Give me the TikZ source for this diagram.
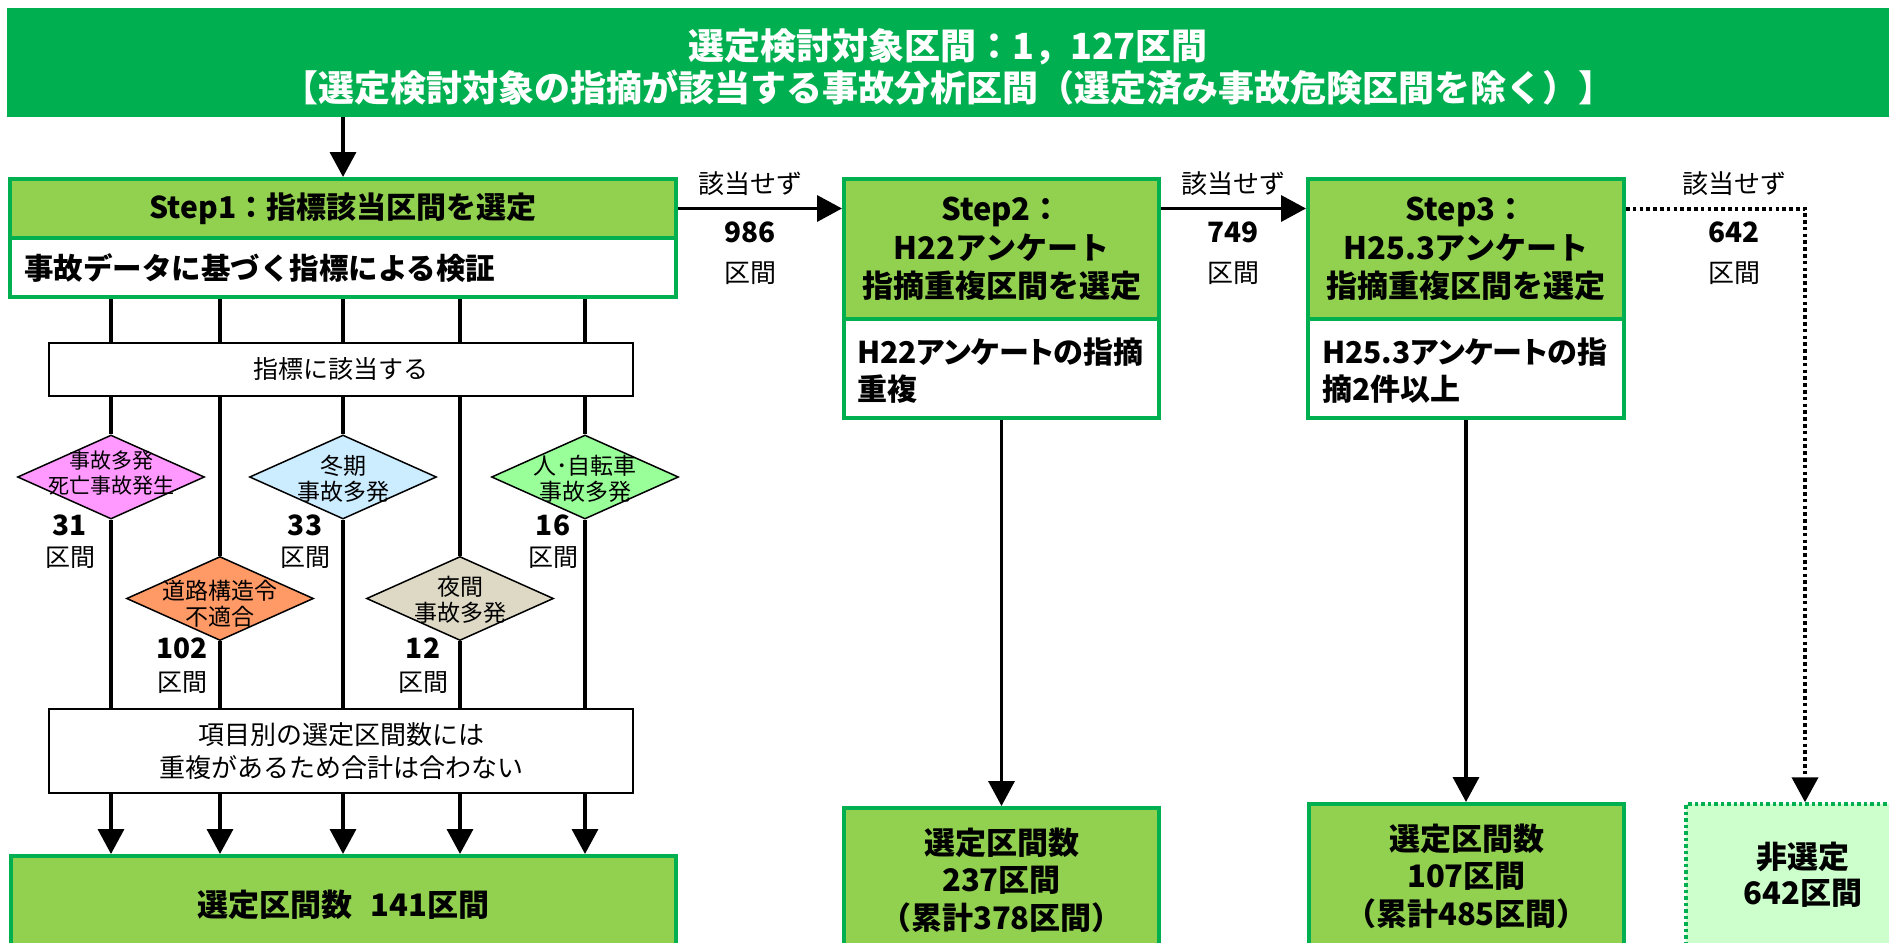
\documentclass[tikz,border=0pt]{standalone}
\usepackage{fontspec}
\setmainfont{Noto Sans CJK JP}
\newfontfamily\pjp{Noto Sans CJK JP}[RawFeature=+palt]
\usetikzlibrary{arrows.meta,shapes.geometric}
\definecolor{bgreen}{HTML}{00B050}
\definecolor{hgreen}{HTML}{92D050}
\definecolor{lgreen}{HTML}{CCFFCC}
\definecolor{dpink}{HTML}{FF99FF}
\definecolor{dorange}{HTML}{FF9966}
\definecolor{dblue}{HTML}{CCECFF}
\definecolor{dtan}{HTML}{DDD9C4}
\definecolor{dgreen}{HTML}{99FF99}
\newcommand\myfs[2]{\fontsize{#1pt}{#2pt}\selectfont}
\newcommand\bignum[1]{{\bfseries\fontsize{28pt}{28pt}\selectfont #1}}
\begin{document}
\begin{tikzpicture}[x=1pt,y=-1pt,
  hdr/.style={draw=bgreen, fill=hgreen, line width=4pt, inner sep=0pt, align=center, font=\bfseries\myfs{31}{38.5}},
  wbox/.style={draw=bgreen, fill=white, line width=4pt, inner sep=0pt},
  res/.style={draw=bgreen, fill=hgreen, line width=4pt, inner sep=0pt, align=center, font=\bfseries\myfs{31}{37.5}},
  thinbox/.style={draw=black, fill=white, line width=1.5pt, inner sep=0pt, align=center},
  dia/.style={diamond, draw=black, line width=1.5pt, inner sep=0pt, minimum width=187pt, minimum height=84pt},
  dtext/.style={align=center, inner sep=0pt},
  numlab/.style={align=center, inner sep=0pt, font=\myfs{25}{31}},
  toplab/.style={align=center, inner sep=0pt, font=\myfs{26}{30}},
  conn/.style={draw=black, line width=3.5pt},
  arr/.style={conn, -{Triangle[width=26pt,length=25pt]}},
  dotarr/.style={draw=black, line width=4pt, dash pattern=on 3.6pt off 3.2pt, -{Triangle[width=26pt,length=25pt]}}
]
\useasboundingbox (0,0) rectangle (1889,942);
\clip (0,0) rectangle (1889,942);

% banner
\node[fill=bgreen, minimum width=1890pt, minimum height=109pt, inner sep=0pt] (banner) at (952,62.5) {};
\node[text=white, align=center, font=\bfseries\myfs{36}{42}] (bannertxt) at (948,67)
  {選定検討対象区間：1，127区間\\【選定検討対象の指摘が該当する事故分析区間（選定済み事故危険区間を除く）】};

% step 1
\node[hdr, minimum width=666pt, minimum height=59pt, font=\bfseries\myfs{30}{36}] (step1h) at (343,208.5) {Step1：指標該当区間を選定};
\node[wbox, minimum width=666pt, minimum height=59pt] (step1b) at (343,267.5) {};
\node[anchor=west, inner sep=0pt, font=\bfseries\myfs{29.5}{36}] (step1bt) at (24,268) {事故データに基づく指標による検証};

\node[thinbox, minimum width=584pt, minimum height=53pt, font=\myfs{25}{30}] (idx) at (341,369.5) {指標に該当する};
\node[thinbox, minimum width=584pt, minimum height=84pt, font=\myfs{26}{33}] (note) at (341,751) {項目別の選定区間数には\\重複があるため合計は合わない};

% diamonds
\node[dia, fill=dpink]   (d1) at (111,477) {};
\node[dia, fill=dorange] (d2) at (220,598.5) {};
\node[dia, fill=dblue]   (d3) at (343,477) {};
\node[dia, fill=dtan]    (d4) at (460,598.5) {};
\node[dia, fill=dgreen]  (d5) at (585,477) {};

\node[dtext, font=\myfs{21}{25}] (d1t) at (111,473) {事故多発\\死亡事故発生};
\node[dtext, font=\myfs{23}{26}] (d2t) at (220,604) {道路構造令\\不適合};
\node[dtext, font=\myfs{23}{26}] (d3t) at (343,479) {冬期\\事故多発};
\node[dtext, font=\myfs{23}{26}] (d4t) at (460,600) {夜間\\事故多発};
\node[dtext, font=\myfs{23}{26}] (d5t) at (585,479) {人･自転車\\事故多発};

\node[numlab] (n1) at (70,541.5) {\bignum{31}\\区間};
\node[numlab] (n3) at (305,541.5) {\bignum{33}\\区間};
\node[numlab] (n5) at (553,541.5) {\bignum{16}\\区間};
\node[numlab, font=\myfs{25}{33}] (n2) at (182,665.5) {\bignum{102}\\区間};
\node[numlab, font=\myfs{25}{33}] (n4) at (423,665.5) {\bignum{12}\\区間};

% result step1
\node[res, minimum width=665pt, minimum height=98pt] (r1) at (343.5,905) {選定区間数\hspace{0.6em}141区間};

% step 2
\node[hdr, minimum width=315pt, minimum height=140pt] (step2h) at (1001.5,249) {Step2：\\H22アンケート\\指摘重複区間を選定};
\node[wbox, minimum width=315pt, minimum height=99pt] (step2b) at (1001.5,368.5) {};
\node[anchor=west, align=left, inner sep=0pt, font=\pjp\bfseries\myfs{30}{37}] (step2bt) at (857,370.5) {H22アンケートの指摘\\重複};
\node[res, minimum width=315pt, minimum height=144pt] (r2) at (1001.5,880) {選定区間数\\237区間\\（累計378区間）};

% step 3
\node[hdr, minimum width=316pt, minimum height=140pt] (step3h) at (1466,249) {Step3：\\H25.3アンケート\\指摘重複区間を選定};
\node[wbox, minimum width=316pt, minimum height=99pt] (step3b) at (1466,368.5) {};
\node[anchor=west, align=left, inner sep=0pt, font=\pjp\bfseries\myfs{30}{37}] (step3bt) at (1322,370.5) {H25.3アンケートの指\\摘2件以上};
\node[res, minimum width=315pt, minimum height=144pt] (r3) at (1466.5,876) {選定区間数\\107区間\\（累計485区間）};

% non-selected
\node[draw=bgreen, fill=lgreen, line width=3.5pt, dash pattern=on 3.5pt off 3pt, inner sep=0pt,
      minimum width=234pt, minimum height=142pt, align=center, font=\bfseries\myfs{31}{36}] (r4) at (1803,875) {非選定\\642区間};

% labels along the top
\node[toplab] (l1) at (750,184) {該当せず};
\node[toplab] (l2) at (1233,184) {該当せず};
\node[toplab] (l3) at (1734,184) {該当せず};
\node[toplab, font=\myfs{26}{40}] (m1) at (750,253) {\bignum{986}\\区間};
\node[toplab, font=\myfs{26}{40}] (m2) at (1233,253) {\bignum{749}\\区間};
\node[toplab, font=\myfs{26}{40}] (m3) at (1734,253) {\bignum{642}\\区間};

% connectors
\draw[arr] (banner.south -| step1h.north) -- (step1h.north);
\draw[arr] (step1h.east) -- (step1h.east -| step2h.west);
\draw[arr] (step2h.east |- step1h.east) -- (step3h.west |- step1h.east);
\coordinate (turn) at (1805,208.5);
\draw[dotarr] (step3h.east |- turn) -- (turn) -- (turn |- r4.north);
\draw[arr] (step2b.south) -- (step2b.south |- r2.north);
\draw[arr] (step3b.south) -- (step3b.south |- r3.north);

\foreach \d in {d1,d2,d3,d4,d5}{
  \draw[conn] (step1b.south -| \d.center) -- (idx.north -| \d.center);
  \draw[conn] (idx.south -| \d.center) -- (\d.north);
  \draw[conn] (\d.south) -- (note.north -| \d.center);
  \draw[arr] (note.south -| \d.center) -- (r1.north -| \d.center);
}
\end{tikzpicture}
\end{document}
